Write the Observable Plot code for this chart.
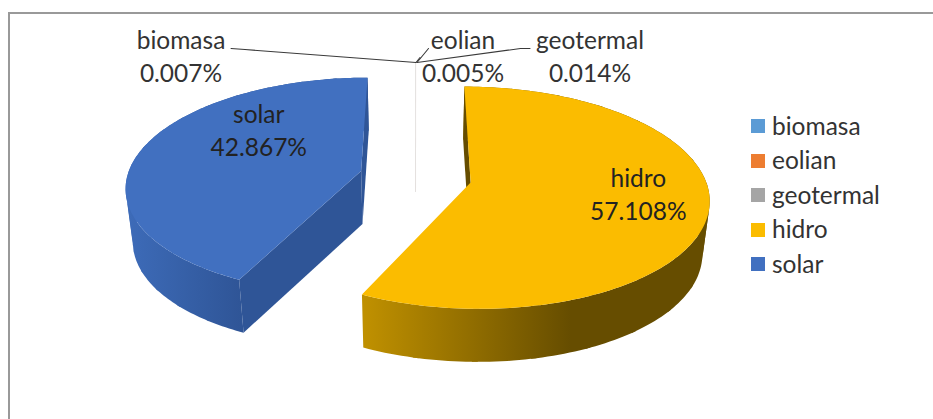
<!DOCTYPE html>
<html>
<head>
<meta charset="utf-8">
<script src="https://cdn.jsdelivr.net/npm/d3@7"></script>
<script src="https://cdn.jsdelivr.net/npm/@observablehq/plot@0.6"></script>
<style>
  html, body { margin: 0; padding: 0; background: #fff; }
  #wrap { position: relative; width: 933px; height: 419px; overflow: hidden; font-family: Lato, sans-serif; }
  #frame { position: absolute; left: 8px; top: 12px; right: 0; bottom: -4px; border-top: 2px solid #999; border-left: 2px solid #999; }
  #chart { position: absolute; left: 0; top: 0; }
  #legend { position: absolute; left: 751px; top: 108.7px; }
</style>
</head>
<body>
<div id="wrap"><div id="frame"></div><div id="chart"></div><div id="legend"></div></div>
<script>
// Data
const categories = ["biomasa", "eolian", "geotermal", "hidro", "solar"];
const shares = [0.007, 0.005, 0.014, 57.108, 42.867];
const shareLabels = ["0.007%", "0.005%", "0.014%", "57.108%", "42.867%"];
const colors = ["#5B9BD5", "#ED7D31", "#A5A5A5", "#FBBC00", "#4170C0"];

// Perspective view of the exploded pie
const view = {cx: 415, cy: 176.3, rx: 234, ry: 107.5, persp: 0.135, explode: 0.24, depth: 53, taper: 0.025};
const anchorPx = {x: 415.5, y: 62};

const projection = d3.geoTransform({
  point(wx, wz, h) {
    if (h === "px") { this.stream.point(anchorPx.x + wx, anchorPx.y + wz); return; }
    const w = 1 + view.persp * wz;
    const d = h || 0;
    const sx = view.rx * wx / w * (1 - view.taper * d);
    const sy = -view.ry * wz / w + view.depth * d;
    this.stream.point(view.cx + sx, view.cy + sy);
  }
});

const arcs = d3.pie().sort(null).value(d => d)(shares).map((a, i) => {
  const mid = (a.startAngle + a.endAngle) / 2;
  return {
    name: categories[i],
    label: shareLabels[i],
    a0: a.startAngle,
    a1: a.endAngle,
    ox: view.explode * Math.sin(mid),
    oz: view.explode * Math.cos(mid)
  };
});
const rim = (s, a, h) => [s.ox + Math.sin(a), s.oz + Math.cos(a), h];
const hub = (s, h) => [s.ox, s.oz, h];
const STEPS = 160, CHUNK = 10;
const arcPoints = (s, h, from = 0, to = STEPS) =>
  d3.range(from, to + 1).map(k => rim(s, s.a0 + (s.a1 - s.a0) * k / STEPS, h));
const poly = (coords, name) => ({type: "Feature", properties: {name}, geometry: {type: "Polygon", coordinates: [[...coords, coords[0]]]}});

const bySlice = Object.fromEntries(arcs.map(s => [s.name, s]));
const topFace = s => poly([hub(s, 0), ...arcPoints(s, 0)], s.name);
// Outer wall in separate ribbons so that front and back parts never cancel out
const wall = s => d3.range(0, STEPS, CHUNK).map(k => {
  const to = Math.min(STEPS, k + CHUNK + 1);
  return poly([...arcPoints(s, 0, k, to), ...arcPoints(s, 1, k, to).reverse()], s.name);
});
const startFace = s => poly([hub(s, 0), rim(s, s.a0, 0), rim(s, s.a0, 1), hub(s, 1)], s.name);
const endFace = s => poly([hub(s, 0), rim(s, s.a1, 0), rim(s, s.a1, 1), hub(s, 1)], s.name);

const tiny = arcs.slice(0, 3);
const hidro = bySlice.hidro, solar = bySlice.solar;

// Label placement (layout, not data)
const insideLabels = [
  {name: "hidro", x: 0.93, z: -0.173},
  {name: "solar", x: -0.71, z: 0.444}
].map(d => ({...d, text: `${d.name}\n${bySlice[d.name].label}`}));
const outerLabels = [
  {name: "biomasa", dx: -234.5},
  {name: "eolian", dx: 47.5},
  {name: "geotermal", dx: 174.5}
].map(d => ({...d, text: `${d.name}\n${bySlice[d.name].label}`}));
const leaders = [
  [[-185, -14, "px"], [-171, -13, "px"], [0, 0, "px"], [4, -5, "px"]],
  [[1, 0, "px"], [12.5, -14, "px"]],
  [[1, 0, "px"], [104.5, -14, "px"], [114, -14, "px"]]
].map(coordinates => ({type: "Feature", properties: {}, geometry: {type: "LineString", coordinates}}));

function gradients() {
  const ns = "http://www.w3.org/2000/svg";
  const defs = document.createElementNS(ns, "defs");
  const add = (id, x1, x2, stops) => {
    const g = document.createElementNS(ns, "linearGradient");
    g.setAttribute("id", id);
    g.setAttribute("gradientUnits", "userSpaceOnUse");
    g.setAttribute("x1", x1); g.setAttribute("x2", x2);
    g.setAttribute("y1", 0); g.setAttribute("y2", 0);
    for (const [o, c] of stops) {
      const s = document.createElementNS(ns, "stop");
      s.setAttribute("offset", o); s.setAttribute("stop-color", c);
      g.appendChild(s);
    }
    defs.appendChild(g);
  };
  add("wallHidro", 365, 570, [[0, "#BF9000"], [1, "#664D00"]]);
  add("wallSolar", 128, 240, [[0, "#3D6BB8"], [1, "#2F5597"]]);
  return defs;
}

const font = "Lato, sans-serif";
const fontSize = 24.5;
const lineGap = 33;
const chart = Plot.plot({
  width: 933,
  height: 419,
  margin: 0,
  projection,
  style: {background: "transparent", overflow: "visible"},
  color: {domain: categories, range: colors},
  marks: [
    gradients,
    // Hair-thin slices
    ...tiny.map(s => Plot.geo([poly([hub(s, 0), rim(s, s.a0, 0), rim(s, s.a0, 0.75), hub(s, 0.75)], s.name)], {
      stroke: d => d.properties.name, strokeWidth: 0.8, strokeOpacity: 0.07, fill: "none"
    })),
    // Solar body
    Plot.geo(wall(solar), {fill: "url(#wallSolar)"}),
    Plot.geo([startFace(solar), endFace(solar)], {fill: "#2F5597"}),
    Plot.geo([topFace(solar)], {fill: d => d.properties.name}),
    // Hidro body
    Plot.geo(wall(hidro), {fill: "url(#wallHidro)"}),
    Plot.geo([startFace(hidro)], {fill: "#664D00"}),
    Plot.geo([topFace(hidro)], {fill: d => d.properties.name}),
    // Leaders
    Plot.geo(leaders, {stroke: "#3a3a3a", strokeWidth: 1.1, fill: "none"}),
    // Labels
    Plot.text(insideLabels, {
      x: "x", y: "z", text: "text", dy: -3, fontFamily: font, fontSize, lineHeight: lineGap / fontSize, fill: "#222"
    }),
    ...outerLabels.map(d => Plot.text([d], {
      x: () => 0, y: () => 1 + view.explode, text: "text", dx: d.dx, dy: -7.5,
      fontFamily: font, fontSize, lineHeight: lineGap / fontSize, fill: "#333"
    }))
  ]
});
document.getElementById("chart").appendChild(chart);

const legend = chart.legend("color", {columns: 1, swatchSize: 14});
legend.style.fontFamily = font;
legend.style.fontSize = fontSize + "px";
legend.style.color = "#333";
legend.style.margin = "0";
legend.style.minHeight = "0";
legend.querySelectorAll("div").forEach(d => {
  const s = d.querySelector(":scope > svg");
  if (s) {
    d.style.height = "34.6px";
    d.style.lineHeight = "34.6px";
    d.style.padding = "0";
    d.style.display = "flex";
    d.style.alignItems = "center";
    d.style.whiteSpace = "nowrap";
    s.style.marginRight = "7px";
    s.style.flexShrink = "0";
  } else if (!d.querySelector("div")) {
    d.style.overflow = "visible";
    d.style.font = "inherit";
  }
});
document.getElementById("legend").appendChild(legend);
</script>
</body>
</html>
